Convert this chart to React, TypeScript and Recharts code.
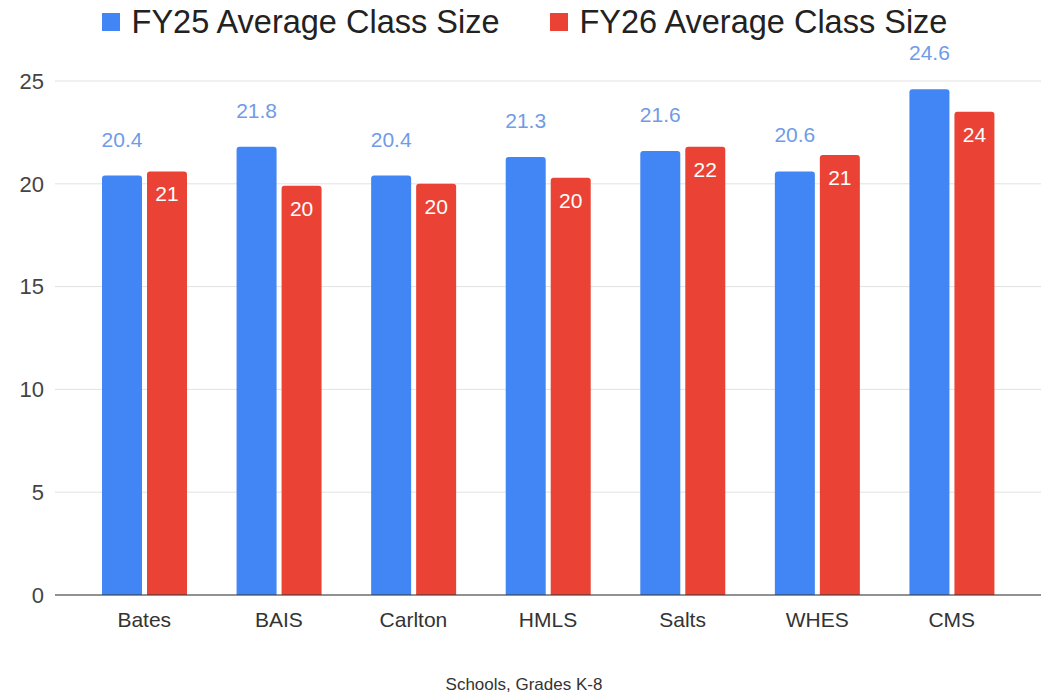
import { Bar, BarChart, CartesianGrid, LabelList, Legend, XAxis, YAxis } from 'recharts'

const schools = ['Bates', 'BAIS', 'Carlton', 'HMLS', 'Salts', 'WHES', 'CMS']
const fy25 = [20.4, 21.8, 20.4, 21.3, 21.6, 20.6, 24.6]
const fy26 = [20.6, 19.9, 20.0, 20.3, 21.8, 21.4, 23.5]
const yTicks = [0, 5, 10, 15, 20, 25]

const BLUE = '#4285F4'
const RED = '#EA4335'
const FONT = '"Liberation Sans", Arial, sans-serif'

const rows = schools.map((name, i) => ({ name, fy25: fy25[i], fy26: fy26[i] }))

// Legend drawn as plain swatch + label pairs, centred over the chart
function TopLegend({ payload }: { payload?: { value: string; color: string }[] }) {
  return (
    <div style={{ display: 'flex', justifyContent: 'center', gap: 50, fontFamily: FONT, paddingLeft: 8 }}>
      {(payload ?? []).map((p) => (
        <div key={p.value} style={{ display: 'flex', alignItems: 'center', gap: 12 }}>
          <span style={{ width: 18, height: 18, background: p.color, display: 'inline-block' }} />
          <span style={{ fontSize: 32.5, color: '#222', lineHeight: '44px' }}>{p.value}</span>
        </div>
      ))}
    </div>
  )
}

export default function App() {
  return (
    <div style={{ width: 1043, height: 693, background: '#fff' }}>
      <style>{`body{margin:0}`}</style>
      <BarChart
        width={1043}
        height={693}
        data={rows}
        margin={{ top: 0, right: 2, left: 0, bottom: 0 }}
        barSize={40}
        barGap={5}
      >
        <Legend verticalAlign="top" height={81} content={(props: any) => <TopLegend payload={props.payload} />} />
        <CartesianGrid vertical={false} stroke="#e2e2e2" />
        <XAxis
          dataKey="name"
          height={98}
          padding={{ left: 22, right: 22 }}
          tickLine={false}
          tickSize={0}
          tickMargin={17}
          axisLine={{ stroke: '#333' }}
          tick={{ fontSize: 21, fill: '#333', fontFamily: FONT }}
          label={{ value: 'Schools, Grades K-8', position: 'insideBottom', offset: 3, dx: -24, fontSize: 17, fill: '#333', fontFamily: FONT }}
        />
        <YAxis
          width={55}
          domain={[0, 25]}
          ticks={yTicks}
          axisLine={false}
          tickLine={false}
          tickSize={0}
          tickMargin={11}
          tick={{ fontSize: 22, fill: '#444', fontFamily: FONT }}
        />
        <Bar dataKey="fy25" name="FY25 Average Class Size" fill={BLUE} radius={[3, 3, 0, 0]} isAnimationActive={false}>
          <LabelList dataKey="fy25" position="top" offset={29} fill="#6f9be8" fontSize={21} fontFamily={FONT} />
        </Bar>
        <Bar dataKey="fy26" name="FY26 Average Class Size" fill={RED} radius={[3, 3, 0, 0]} isAnimationActive={false}>
          <LabelList
            dataKey="fy26"
            position="insideTop"
            offset={15}
            fill="#fff"
            fontSize={21}
            fontFamily={FONT}
            formatter={(v: any) => Math.round(Number(v))}
          />
        </Bar>
      </BarChart>
    </div>
  )
}
